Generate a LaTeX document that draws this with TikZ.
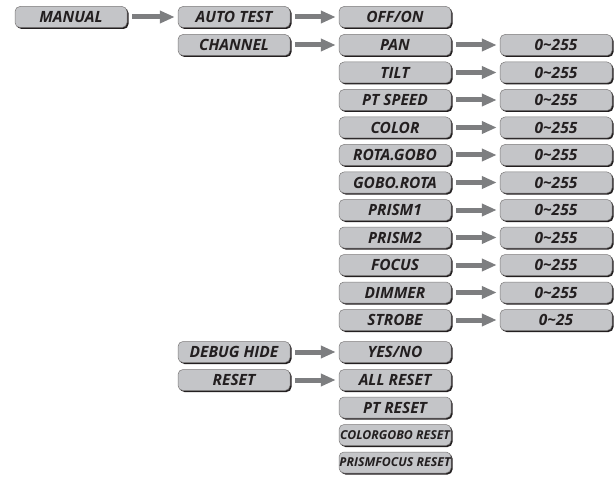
\documentclass[tikz,border=0pt]{standalone}
\usepackage{fontspec}
\setsansfont{Open Sans}
\usetikzlibrary{arrows.meta,shadows}

\definecolor{boxgrey}{HTML}{C4C5C8}
\definecolor{arrowgrey}{HTML}{7D7E80}
\definecolor{inkdark}{HTML}{231F20}

\tikzset{
	menubox/.style={draw=inkdark!60, line width=0.5pt, fill=boxgrey, rounded corners=5pt,
		minimum width=112pt, minimum height=21pt, inner sep=0pt, text=inkdark,
		font=\sffamily\bfseries\itshape\fontsize{15.5}{15.5}\selectfont,
		drop shadow={shadow xshift=1.5pt, shadow yshift=-1.5pt, fill=inkdark, opacity=1}},
	smallbox/.style={menubox, font=\sffamily\bfseries\itshape\fontsize{12.3}{12.3}\selectfont},
	flow/.style={draw=arrowgrey, line width=5pt, -{Triangle[length=15pt,width=12pt]},
		shorten <=5pt, shorten >=3pt}
}

\begin{document}
\begin{tikzpicture}[x=1pt, y=-1pt]
		%%%%% START %%%%%
		
		\useasboundingbox (0, 0) rectangle (616, 492);
		
		\node[menubox] (manual) at (71, 17) {MANUAL};
		
		\node[menubox] (autotest) at (234, 17) {AUTO TEST};
		\node[menubox] (channel) at (234, 45) {CHANNEL};
		\node[menubox] (debughide) at (234, 352) {DEBUG HIDE};
		\node[menubox] (reset) at (234, 380) {RESET};
		
		\node[menubox] (offon) at (395, 17) {OFF/ON};
		\node[menubox] (pan) at (395, 45) {PAN};
		\node[menubox] (tilt) at (395, 72.5) {TILT};
		\node[menubox] (ptspeed) at (395, 100) {PT SPEED};
		\node[menubox] (color) at (395, 127.5) {COLOR};
		\node[menubox] (rotagobo) at (395, 155) {ROTA.GOBO};
		\node[menubox] (goborota) at (395, 182.5) {GOBO.ROTA};
		\node[menubox] (prismone) at (395, 210) {PRISM1};
		\node[menubox] (prismtwo) at (395, 237.5) {PRISM2};
		\node[menubox] (focus) at (395, 265) {FOCUS};
		\node[menubox] (dimmer) at (395, 292.5) {DIMMER};
		\node[menubox] (strobe) at (395, 320) {STROBE};
		\node[menubox] (yesno) at (395, 352) {YES/NO};
		\node[menubox] (allreset) at (395, 380) {ALL RESET};
		\node[menubox] (ptreset) at (395, 407.5) {PT RESET};
		\node[smallbox] (colorgobo) at (395, 435) {COLORGOBO RESET};
		\node[smallbox] (prismfocus) at (395, 462.5) {PRISMFOCUS RESET};
		
		\node[menubox] (panval) at (556, 45) {0\char`~255};
		\node[menubox] (tiltval) at (556, 72.5) {0\char`~255};
		\node[menubox] (ptspeedval) at (556, 100) {0\char`~255};
		\node[menubox] (colorval) at (556, 127.5) {0\char`~255};
		\node[menubox] (rotagoboval) at (556, 155) {0\char`~255};
		\node[menubox] (goborotaval) at (556, 182.5) {0\char`~255};
		\node[menubox] (prismoneval) at (556, 210) {0\char`~255};
		\node[menubox] (prismtwoval) at (556, 237.5) {0\char`~255};
		\node[menubox] (focusval) at (556, 265) {0\char`~255};
		\node[menubox] (dimmerval) at (556, 292.5) {0\char`~255};
		\node[menubox] (strobeval) at (556, 320) {0\char`~25};
		
		\draw[flow] (manual) -- (autotest);
		\draw[flow] (autotest) -- (offon);
		\draw[flow] (channel) -- (pan);
		\draw[flow] (debughide) -- (yesno);
		\draw[flow] (reset) -- (allreset);
		
		\draw[flow] (pan) -- (panval);
		\draw[flow] (tilt) -- (tiltval);
		\draw[flow] (ptspeed) -- (ptspeedval);
		\draw[flow] (color) -- (colorval);
		\draw[flow] (rotagobo) -- (rotagoboval);
		\draw[flow] (goborota) -- (goborotaval);
		\draw[flow] (prismone) -- (prismoneval);
		\draw[flow] (prismtwo) -- (prismtwoval);
		\draw[flow] (focus) -- (focusval);
		\draw[flow] (dimmer) -- (dimmerval);
		\draw[flow] (strobe) -- (strobeval);
		
		%%%%% END %%%%%
\end{tikzpicture}
\end{document}
